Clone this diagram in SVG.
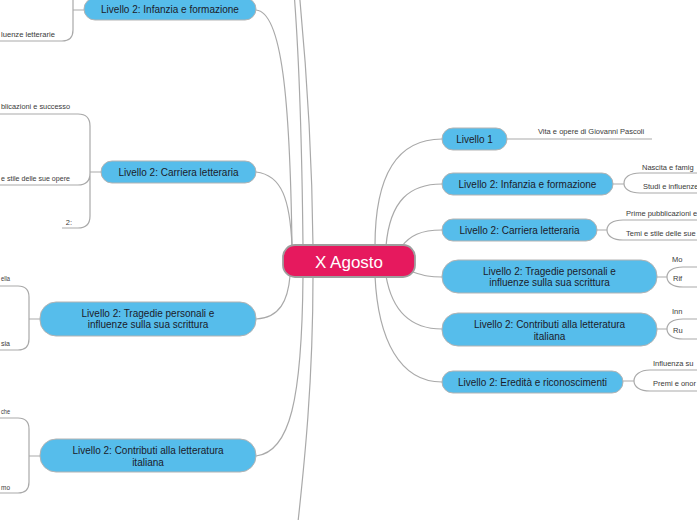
<svg xmlns="http://www.w3.org/2000/svg" width="697" height="520" viewBox="0 0 697 520">
<style>
.bg{fill:#ffffff}
.c{fill:none;stroke:#a9a9a9;stroke-width:1.2}
.n{fill:#56bdeb;stroke:#b3b3b3;stroke-width:1}
.root{fill:#e6195e;stroke:#9e9e9e;stroke-width:1.8}
.t{font-family:"Liberation Sans",Arial,sans-serif;font-size:10px;fill:#1b1b2a;text-anchor:middle}
.rt{font-family:"Liberation Sans",Arial,sans-serif;font-size:17px;fill:#ffffff;text-anchor:middle}
.s{font-family:"Liberation Sans",Arial,sans-serif;font-size:7.5px;fill:#3a3a3a}
.se{font-family:"Liberation Sans",Arial,sans-serif;font-size:7.5px;fill:#3a3a3a;text-anchor:end}
</style>
<rect class="bg" x="0" y="0" width="697" height="520"/>
<g id="connectors">
<path class="c" d="M375,246 C375,170 400,139 442,139"/>
<path class="c" d="M386,246 C390,200 410,184 442,184"/>
<path class="c" d="M402,246 C410,236 420,230 442,230"/>
<path class="c" d="M413,272 C425,276 430,277 442,277"/>
<path class="c" d="M386,276 C392,310 410,329 442,329"/>
<path class="c" d="M375,276 C378,340 400,382 442,382"/>
<path class="c" d="M256,10 C282,12 290,100 292,246"/>
<path class="c" d="M256,172 C282,175 290,200 292,246"/>
<path class="c" d="M303,246 C302,150 300,60 293,-20"/>
<path class="c" d="M313,246 C312,150 306,60 298,-20"/>
<path class="c" d="M290,276 C288,300 280,318 256,319"/>
<path class="c" d="M303,276 C302,400 290,452 256,456"/>
<path class="c" d="M313,276 C313,380 305,460 296,540"/>
<path class="c" d="M507,139 H652"/>
<path class="c" d="M613,184 H624 M700,173 H640 C630,173 624,177 624,183.5 C624,189 630,193 640,193 H700"/>
<path class="c" d="M597,230 H607 M700,220 H623 C613,220 607,224 607,230 C607,236 613,240 623,240 H700"/>
<path class="c" d="M657,277 H667 M700,267 H683 C673,267 667,271 667,277 C667,283 673,287 683,287 H700"/>
<path class="c" d="M657,329 H667 M700,319 H683 C673,319 667,323 667,329 C667,335 673,339 683,339 H700"/>
<path class="c" d="M623,381 H634 M700,370 H650 C640,370 634,375 634,381 C634,387 640,391 650,391 H700"/>
<path class="c" d="M73,10 H84 M73,-20 V30 Q73,41 62,41 H-5"/>
<path class="c" d="M90,172 H101 M-5,114 H78 Q90,114 90,126 V216 Q90,228 78,228 H62 M-5,185 H78 Q90,185 90,173"/>
<path class="c" d="M29,319 H40 M-5,286 H18 Q29,286 29,297 V339 Q29,350 18,350 H-5"/>
<path class="c" d="M29,456 H40 M-5,418 H18 Q29,418 29,429 V482 Q29,493 18,493 H-5"/>
</g>
<g id="root">
<rect class="root" x="283" y="245" width="132" height="32" rx="12"/>
<text class="rt" x="349" y="267.5">X Agosto</text>
</g>
<g id="r-livello1">
<rect class="n" x="442" y="128" width="65" height="22" rx="11"/>
<text class="t" x="474.5" y="142.5">Livello 1</text>
<text class="s" x="538" y="134">Vita e opere di Giovanni Pascoli</text>
</g>
<g id="r-infanzia">
<rect class="n" x="442" y="173" width="171" height="22" rx="11"/>
<text class="t" x="527.5" y="187.5">Livello 2: Infanzia e formazione</text>
<text class="s" x="642" y="170">Nascita e famig</text>
<text class="s" x="643" y="188.5">Studi e influenze</text>
</g>
<g id="r-carriera">
<rect class="n" x="442" y="219" width="155" height="22" rx="11"/>
<text class="t" x="519.5" y="233.5">Livello 2: Carriera letteraria</text>
<text class="s" x="626" y="216">Prime pubblicazioni e</text>
<text class="s" x="626" y="235.5">Temi e stile delle sue</text>
</g>
<g id="r-tragedie">
<rect class="n" x="442" y="260" width="215" height="33" rx="16"/>
<text class="t" x="549.5" y="274.5">Livello 2: Tragedie personali e</text>
<text class="t" x="549.5" y="286">influenze sulla sua scrittura</text>
<text class="s" x="672" y="262">Mo</text>
<text class="s" x="673" y="281">Rif</text>
</g>
<g id="r-contributi">
<rect class="n" x="442" y="313" width="215" height="33" rx="16"/>
<text class="t" x="549.5" y="327.5">Livello 2: Contributi alla letteratura</text>
<text class="t" x="549.5" y="339.5">italiana</text>
<text class="s" x="672" y="314">Inn</text>
<text class="s" x="673" y="333">Ru</text>
</g>
<g id="r-eredita">
<rect class="n" x="442" y="371" width="181" height="22" rx="11"/>
<text class="t" x="532.5" y="385.5">Livello 2: Eredità e riconoscimenti</text>
<text class="s" x="653" y="366">Influenza su</text>
<text class="s" x="653" y="386">Premi e onor</text>
</g>
<g id="l-infanzia">
<rect class="n" x="84" y="-2" width="172" height="22" rx="11"/>
<text class="t" x="170" y="13">Livello 2: Infanzia e formazione</text>
<text class="s" x="1" y="37" textLength="54" lengthAdjust="spacingAndGlyphs">luenze letterarie</text>
</g>
<g id="l-carriera">
<rect class="n" x="101" y="161" width="155" height="22" rx="11"/>
<text class="t" x="178.5" y="175.5">Livello 2: Carriera letteraria</text>
<text class="s" x="1" y="109" textLength="69" lengthAdjust="spacingAndGlyphs">blicazioni e successo</text>
<text class="s" x="1" y="180.5" textLength="69" lengthAdjust="spacingAndGlyphs">e stile delle sue opere</text>
<text class="se" x="72" y="225">2:</text>
</g>
<g id="l-tragedie">
<rect class="n" x="40" y="302" width="216" height="34" rx="16"/>
<text class="t" x="148" y="316.5">Livello 2: Tragedie personali e</text>
<text class="t" x="148" y="328">influenze sulla sua scrittura</text>
<text class="s" x="1" y="281" textLength="9" lengthAdjust="spacingAndGlyphs">ella</text>
<text class="s" x="1" y="346" textLength="9" lengthAdjust="spacingAndGlyphs">sia</text>
</g>
<g id="l-contributi">
<rect class="n" x="40" y="439" width="216" height="33" rx="16"/>
<text class="t" x="148" y="454">Livello 2: Contributi alla letteratura</text>
<text class="t" x="148" y="466">italiana</text>
<text class="s" x="1" y="414" textLength="9" lengthAdjust="spacingAndGlyphs">che</text>
<text class="s" x="1" y="490" textLength="9" lengthAdjust="spacingAndGlyphs">mo</text>
</g>
</svg>
